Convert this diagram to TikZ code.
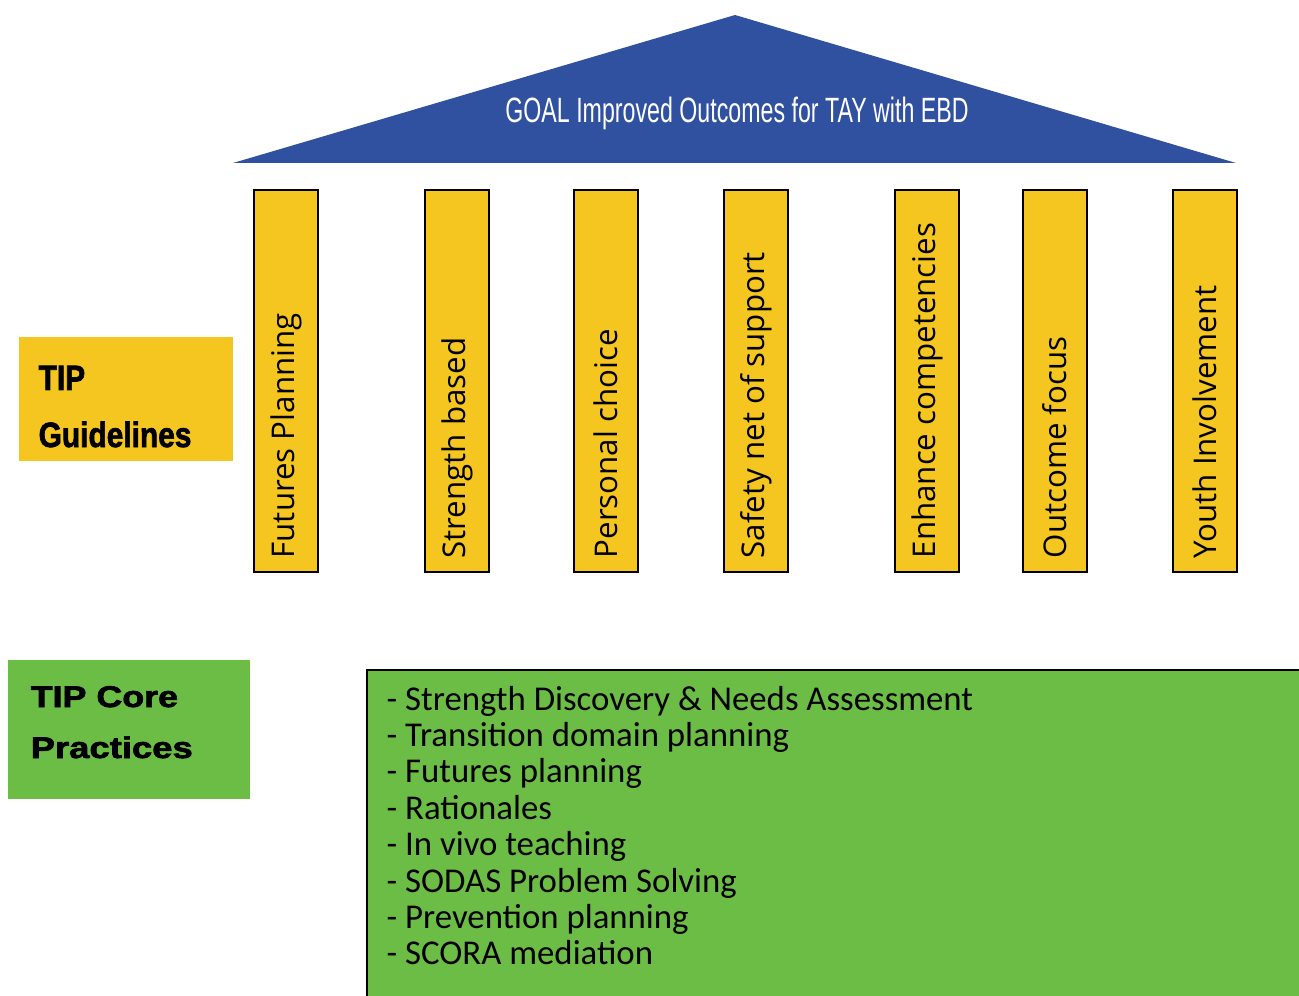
\documentclass[tikz,border=0pt]{standalone}
\usepackage{fontspec}
\usepackage{graphicx}
\usepackage{xcolor}
\usetikzlibrary{calc}

\setmainfont{Liberation Sans}
\newfontfamily\pillarfont{Open Sans}
\newfontfamily\listfont{Carlito}
\newfontfamily\headfont{Liberation Sans}[FakeBold=2]

\definecolor{roofblue}{RGB}{48,80,160}
\definecolor{tipyellow}{RGB}{245,197,32}
\definecolor{tipgreen}{RGB}{108,189,69}

\begin{document}
\begin{tikzpicture}
    \tikzstyle{pillar}=[draw=black,line width=0.6pt,fill=tipyellow,minimum width=0.64cm,minimum height=3.82cm,inner sep=0pt]
    \tikzstyle{pillartext}=[rotate=90,anchor=west,inner sep=0pt,font=\pillarfont\fontsize{8.9}{11}\selectfont]
    \tikzstyle{practice}=[anchor=base west,inner sep=0pt,font=\listfont\fontsize{9.9}{11.6}\selectfont]
    \tikzstyle{heading}=[anchor=base west,inner sep=0pt,font=\headfont\bfseries]

    \clip (0,0) rectangle (12.99,-9.96);
    \useasboundingbox (0,0) rectangle (12.99,-9.96);

    % roof
    \coordinate (apex) at (7.35,-0.15);
    \coordinate (eaveL) at (2.33,-1.63);
    \coordinate (eaveR) at (12.36,-1.63);
    \fill[roofblue] (apex)--(eaveL)--(eaveR)--cycle;
    \node[text=white,inner sep=0pt,anchor=base] (goal) at (7.37,-1.23)
        {\scalebox{0.66}[1]{\fontsize{10}{12}\selectfont GOAL Improved Outcomes for TAY with EBD}};

    % pillars
    \node[pillar] (futures) at (2.86,-3.81) {};
    \node[pillar] (strength) at (4.57,-3.81) {};
    \node[pillar] (choice) at (6.06,-3.81) {};
    \node[pillar] (safety) at (7.56,-3.81) {};
    \node[pillar] (enhance) at (9.27,-3.81) {};
    \node[pillar] (outcome) at (10.55,-3.81) {};
    \node[pillar] (youth) at (12.05,-3.81) {};

    \node[pillartext] (futurestxt) at ($(futures.south) + (0,0.14)$) {Futures Planning};
    \node[pillartext] (strengthtxt) at ($(strength.south) + (0,0.14)$) {Strength based};
    \node[pillartext] (choicetxt) at ($(choice.south) + (0,0.14)$) {Personal choice};
    \node[pillartext] (safetytxt) at ($(safety.south) + (0,0.14)$) {Safety net of support};
    \node[pillartext] (enhancetxt) at ($(enhance.south) + (0,0.14)$) {Enhance competencies};
    \node[pillartext] (outcometxt) at ($(outcome.south) + (0,0.14)$) {Outcome focus};
    \node[pillartext] (youthtxt) at ($(youth.south) + (0,0.14)$) {Youth Involvement};

    % guidelines label
    \node[fill=tipyellow,minimum width=2.14cm,minimum height=1.24cm,inner sep=0pt] (guide) at (1.26,-3.99) {};
    \node[heading] (guide1) at (0.38,-3.90) {\scalebox{0.85}[1]{\fontsize{10}{12}\selectfont TIP}};
    \node[heading] (guide2) at ($(guide1.base west) + (0,-0.57)$) {\scalebox{0.85}[1]{\fontsize{10}{12}\selectfont Guidelines}};

    % core practices label
    \node[fill=tipgreen,minimum width=2.42cm,minimum height=1.39cm,inner sep=0pt] (core) at (1.29,-7.295) {};
    \node[heading] (core1) at (0.30,-7.07) {\scalebox{1.2}[1]{\fontsize{8.5}{10}\selectfont TIP Core}};
    \node[heading] (core2) at ($(core1.base west) + (0,-0.51)$) {\scalebox{1.22}[1]{\fontsize{8.5}{10}\selectfont Practices}};

    % practices list
    \coordinate (listNW) at (3.67,-6.70);
    \coordinate (listSE) at (13.30,-10.20);
    \draw[fill=tipgreen,line width=0.6pt] (listNW) rectangle (listSE);

    \node[practice] (prac1) at (3.86,-7.10) {- Strength Discovery \& Needs Assessment};
    \node[practice] (prac2) at ($(prac1.base west) + (0,-0.364)$) {- Transition domain planning};
    \node[practice] (prac3) at ($(prac2.base west) + (0,-0.364)$) {- Futures planning};
    \node[practice] (prac4) at ($(prac3.base west) + (0,-0.364)$) {- Rationales};
    \node[practice] (prac5) at ($(prac4.base west) + (0,-0.364)$) {- In vivo teaching};
    \node[practice] (prac6) at ($(prac5.base west) + (0,-0.364)$) {- SODAS Problem Solving};
    \node[practice] (prac7) at ($(prac6.base west) + (0,-0.364)$) {- Prevention planning};
    \node[practice] (prac8) at ($(prac7.base west) + (0,-0.364)$) {- SCORA mediation};

\end{tikzpicture}
\end{document}
